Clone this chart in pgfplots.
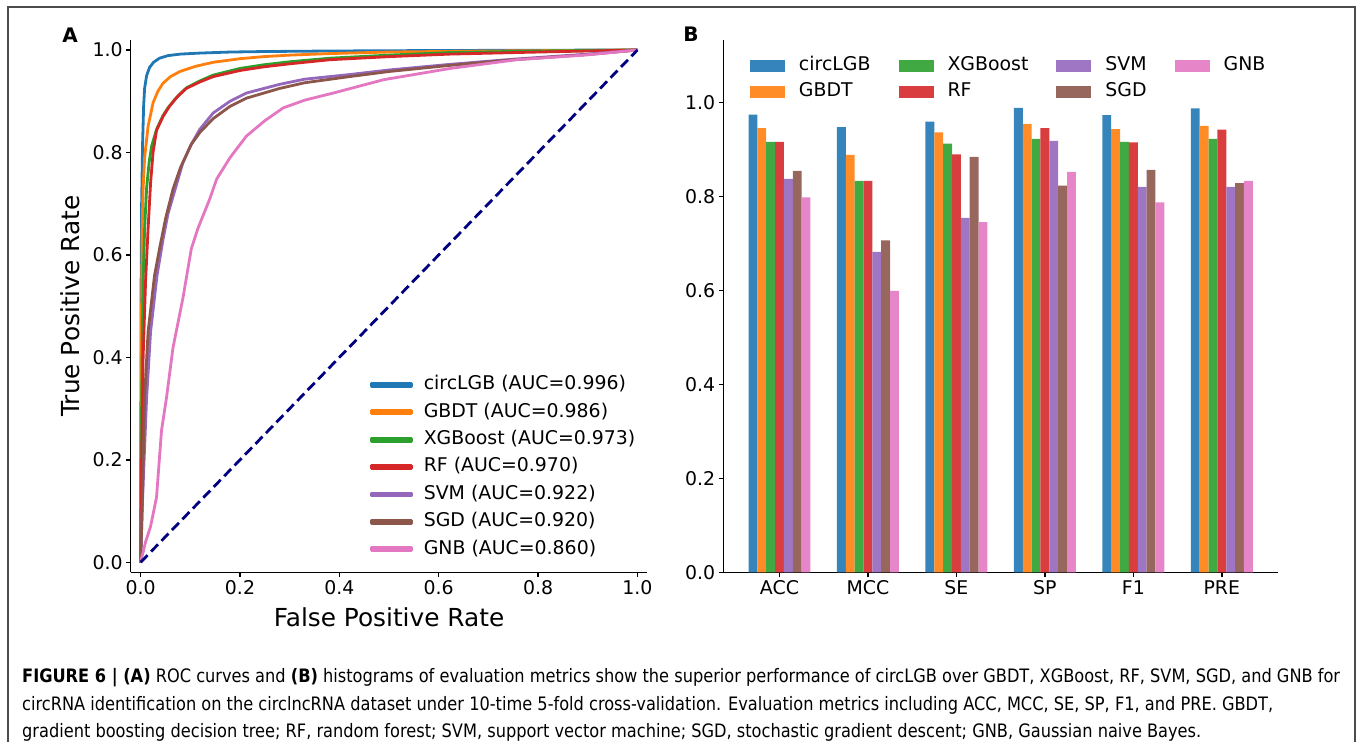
\documentclass[border=0pt]{standalone}
\usepackage{fontspec}
\setmainfont{DejaVu Sans}
\newfontfamily\capfont{DejaVu Sans Condensed}
\usepackage{graphicx}
\usepackage{pgfplots}
\usepackage{pgfplotstable}
\pgfplotsset{compat=1.18}
\definecolor{c1}{HTML}{1F77B4}
\definecolor{c2}{HTML}{FF7F0E}
\definecolor{c3}{HTML}{2CA02C}
\definecolor{c4}{HTML}{D62728}
\definecolor{c5}{HTML}{9467BD}
\definecolor{c6}{HTML}{8C564B}
\definecolor{c7}{HTML}{E377C2}
\definecolor{b1}{HTML}{3585BC}
\definecolor{b2}{HTML}{FF8C26}
\definecolor{b3}{HTML}{41A941}
\definecolor{b4}{HTML}{DA3D3E}
\definecolor{b5}{HTML}{9F76C4}
\definecolor{b6}{HTML}{97675D}
\definecolor{b7}{HTML}{E685C8}
\definecolor{navyd}{HTML}{000080}
\newcommand\tfont{\fontsize{18.9}{22}\selectfont}
\pgfplotstableread{
x circLGB GBDT XGBoost RF SVM SGD GNB
0 0.974 0.945 0.916 0.916 0.837 0.854 0.798
1 0.947 0.888 0.833 0.833 0.682 0.706 0.599
2 0.959 0.936 0.912 0.889 0.754 0.884 0.745
3 0.988 0.954 0.922 0.945 0.918 0.823 0.852
4 0.973 0.943 0.916 0.915 0.820 0.856 0.787
5 0.987 0.950 0.922 0.942 0.820 0.828 0.833
}\metrics
\pgfplotsset{
  mpl/.style={
    scale only axis,
    axis lines=left,
    axis line style={-, line width=1.5pt, black},
    tick align=outside,
    major tick length=4.5pt,
    every tick/.style={black, line width=1.5pt},
    tick label style={font=\tfont},
    /pgf/number format/assume math mode=true,
    clip=false,
  }
}
\newsavebox\capA
\newsavebox\capB
\newsavebox\capC
\begin{document}%
\sbox\capA{\capfont\fontsize{18.5}{22}\selectfont\textbf{FIGURE 6 | (A)} ROC curves and \textbf{(B)} histograms of evaluation metrics show the superior performance of circLGB over GBDT, XGBoost, RF, SVM, SGD, and GNB for}%
\sbox\capB{\capfont\fontsize{18.5}{22}\selectfont circRNA identification on the circlncRNA dataset under 10-time 5-fold cross-validation. Evaluation metrics including ACC, MCC, SE, SP, F1, and PRE. GBDT,}%
\sbox\capC{\capfont\fontsize{18.5}{22}\selectfont gradient boosting decision tree; RF, random forest; SVM, support vector machine; SGD, stochastic gradient descent; GNB, Gaussian naive Bayes.}%
\pgfmathsetmacro\capsx{1318pt/\the\wd\capA}%
\begin{tikzpicture}[x=1pt,y=1pt]
\path (0,0) rectangle (1360,742);
\draw[line width=1.2pt, black!70] (8,0) -- (8,735) -- (1355,735) -- (1355,0);
% ---------------- Panel A ----------------
\begin{axis}[mpl,
  at={(130.7pt,169.7pt)}, anchor=south west,
  width=516.7pt, height=532.3pt,
  xmin=-0.02, xmax=1.02, ymin=-0.0195, ymax=1.0195,
  xtick={0,0.2,0.4,0.6,0.8,1.0}, xticklabels={0.0,0.2,0.4,0.6,0.8,1.0},
  ytick={0,0.2,0.4,0.6,0.8,1.0}, yticklabels={0.0,0.2,0.4,0.6,0.8,1.0},
  xlabel={False Positive Rate}, ylabel={True Positive Rate},
  every axis x label/.style={at={(rel axis cs:0.5,0)}, anchor=center, yshift=-44.7pt, font=\fontsize{24.8}{30}\selectfont},
  every axis y label/.style={at={(rel axis cs:0,0.5)}, anchor=center, rotate=90, yshift=60.7pt, font=\fontsize{24.8}{30}\selectfont},
  legend style={draw=none, fill=none, inner sep=0pt, outer sep=0pt,
    at={(rel axis cs:0.4631,0.3693)}, anchor=north west,
    font=\tfont, row sep=8.9pt, column sep=11pt,
    nodes={inner sep=0pt, text height=14pt, text depth=4.5pt, anchor=west}},
  legend cell align=left,
  legend image code/.code={\fill[#1] (0pt,-1.5pt) rectangle (40pt,1.5pt);},
  every axis plot/.append style={line width=2.8pt, line join=round},
]
\addplot[c1] coordinates {(0,0) (0.0005,0.3) (0.001,0.55) (0.002,0.7) (0.004,0.82) (0.006,0.89) (0.008,0.925) (0.012,0.95) (0.018,0.966) (0.026,0.976) (0.038,0.984) (0.055,0.989) (0.08,0.992) (0.12,0.994) (0.18,0.996) (0.25,0.997) (0.38,0.998) (0.6,0.999) (0.8,0.9995) (1,1)};
\addlegendentry{circLGB (AUC=0.996)}
\addplot[c2] coordinates {(0,0) (0.001,0.3) (0.002,0.5) (0.003,0.65) (0.005,0.73) (0.008,0.79) (0.015,0.851) (0.025,0.897) (0.035,0.92) (0.045,0.935) (0.06,0.948) (0.079,0.958) (0.11,0.968) (0.146,0.976) (0.2,0.983) (0.247,0.987) (0.3,0.99) (0.381,0.993) (0.5,0.996) (0.7,0.998) (1,1)};
\addlegendentry{GBDT (AUC=0.986)}
\addplot[c3] coordinates {(0,0) (0.001,0.2) (0.003,0.4) (0.005,0.55) (0.008,0.651) (0.012,0.73) (0.017,0.78) (0.022,0.812) (0.032,0.845) (0.045,0.872) (0.055,0.887) (0.07,0.905) (0.092,0.926) (0.12,0.94) (0.146,0.951) (0.2,0.964) (0.247,0.971) (0.3,0.977) (0.381,0.984) (0.5,0.99) (0.623,0.995) (0.8,0.998) (1,1)};
\addlegendentry{XGBoost (AUC=0.973)}
\addplot[c4] coordinates {(0,0) (0.002,0.2) (0.005,0.4) (0.01,0.55) (0.015,0.651) (0.02,0.74) (0.025,0.8) (0.032,0.843) (0.045,0.87) (0.058,0.89) (0.075,0.91) (0.092,0.925) (0.12,0.938) (0.146,0.948) (0.2,0.96) (0.247,0.967) (0.3,0.973) (0.381,0.981) (0.5,0.987) (0.623,0.992) (0.8,0.996) (1,1)};
\addlegendentry{RF (AUC=0.970)}
\addplot[c5] coordinates {(0,0) (0.003,0.1) (0.007,0.2) (0.012,0.32) (0.02,0.45) (0.033,0.56) (0.045,0.63) (0.055,0.68) (0.07,0.73) (0.085,0.78) (0.102,0.816) (0.119,0.845) (0.146,0.877) (0.18,0.9) (0.213,0.916) (0.28,0.933) (0.33,0.943) (0.42,0.952) (0.5,0.961) (0.623,0.972) (0.75,0.982) (0.825,0.987) (0.9,0.992) (1,1)};
\addlegendentry{SVM (AUC=0.922)}
\addplot[c6] coordinates {(0,0) (0.003,0.1) (0.005,0.192) (0.008,0.321) (0.015,0.45) (0.028,0.56) (0.038,0.612) (0.05,0.67) (0.065,0.728) (0.08,0.77) (0.102,0.816) (0.12,0.84) (0.146,0.866) (0.18,0.89) (0.213,0.906) (0.28,0.925) (0.33,0.936) (0.42,0.948) (0.5,0.958) (0.623,0.97) (0.75,0.981) (0.825,0.986) (0.9,0.991) (1,1)};
\addlegendentry{SGD (AUC=0.920)}
\addplot[c7] coordinates {(0,0) (0.01,0.04) (0.02,0.07) (0.032,0.127) (0.042,0.257) (0.052,0.321) (0.065,0.418) (0.085,0.515) (0.102,0.612) (0.115,0.651) (0.139,0.709) (0.153,0.748) (0.18,0.79) (0.213,0.832) (0.25,0.862) (0.287,0.887) (0.33,0.902) (0.388,0.916) (0.489,0.942) (0.623,0.964) (0.757,0.981) (0.892,0.99) (1,1)};
\addlegendentry{GNB (AUC=0.860)}
\addplot[navyd, dash pattern=on 10pt off 5pt, forget plot] coordinates {(0,0) (1,1)};
\end{axis}
% ---------------- Panel B ----------------
\begin{axis}[mpl,
  at={(723.3pt,169.7pt)}, anchor=south west,
  width=554.7pt, height=532.3pt,
  xmin=-0.635, xmax=5.635, ymin=0, ymax=1.1326,
  xtick={0,1,2,3,4,5}, xticklabels={ACC,MCC,SE,SP,F1,PRE},
  ytick={0,0.2,0.4,0.6,0.8,1.0}, yticklabels={0.0,0.2,0.4,0.6,0.8,1.0},
  legend style={draw=none, fill=none, inner sep=0pt, outer sep=0pt,
    at={(rel axis cs:0.0481,0.9685)}, anchor=north west,
    font=\tfont, row sep=7.5pt, column sep=14pt,
    /tikz/every even column/.append style={column sep=28pt},
    nodes={inner sep=0pt, text height=14pt, text depth=4.5pt, anchor=west}},
  legend columns=4,
  legend cell align=left,
  legend image code/.code={\fill[#1] (0pt,-6pt) rectangle (35pt,6pt);},
  every axis plot/.append style={ybar, bar width=0.1, bar shift=0pt, draw=none},
]
\addplot[fill=b1, forget plot] table[x expr=\thisrow{x}-0.3, y=circLGB] {\metrics};
\addplot[fill=b2, forget plot] table[x expr=\thisrow{x}-0.2, y=GBDT] {\metrics};
\addplot[fill=b3, forget plot] table[x expr=\thisrow{x}-0.1, y=XGBoost] {\metrics};
\addplot[fill=b4, forget plot] table[x expr=\thisrow{x}, y=RF] {\metrics};
\addplot[fill=b5, forget plot] table[x expr=\thisrow{x}+0.1, y=SVM] {\metrics};
\addplot[fill=b6, forget plot] table[x expr=\thisrow{x}+0.2, y=SGD] {\metrics};
\addplot[fill=b7, forget plot] table[x expr=\thisrow{x}+0.3, y=GNB] {\metrics};
\addlegendimage{b1}\addlegendentry{circLGB}
\addlegendimage{b3}\addlegendentry{XGBoost}
\addlegendimage{b5}\addlegendentry{SVM}
\addlegendimage{b7}\addlegendentry{GNB}
\addlegendimage{b2}\addlegendentry{GBDT}
\addlegendimage{b4}\addlegendentry{RF}
\addlegendimage{b6}\addlegendentry{SGD}
\end{axis}
% panel letters
\node[font=\bfseries\fontsize{20}{24}\selectfont] at (70,707) {A};
\node[font=\bfseries\fontsize{20}{24}\selectfont] at (691,708) {B};
% caption
\node[anchor=base west, inner sep=0pt, text=black!85] at (22,60) {\scalebox{\capsx}[1]{\usebox\capA}};
\node[anchor=base west, inner sep=0pt, text=black!85] at (22,32) {\scalebox{\capsx}[1]{\usebox\capB}};
\node[anchor=base west, inner sep=0pt, text=black!85] at (22,5) {\scalebox{\capsx}[1]{\usebox\capC}};
\end{tikzpicture}%
\end{document}
